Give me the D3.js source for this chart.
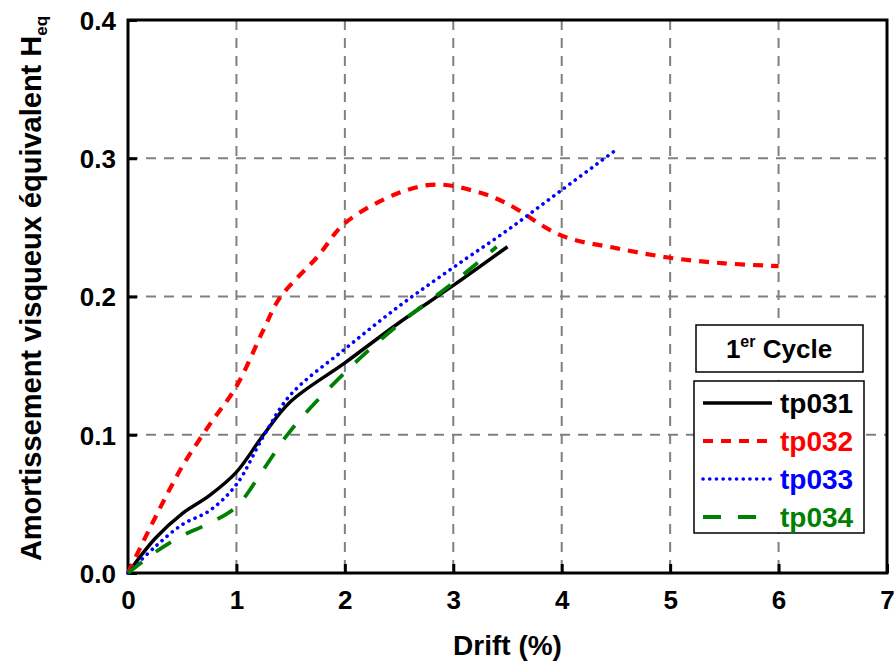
<!DOCTYPE html>
<html>
<head>
<meta charset="utf-8">
<script src="https://cdn.jsdelivr.net/npm/d3@7"></script>
<style>
  html, body { margin: 0; padding: 0; background: #fff; }
  text { font-family: "Liberation Sans", Arial, sans-serif; font-weight: bold; }
</style>
</head>
<body>
<svg id="chart" width="895" height="665"></svg>
<script>
// ---- data ----
const xTicks = [0, 1, 2, 3, 4, 5, 6, 7];
const yTicks = [0.0, 0.1, 0.2, 0.3, 0.4];

const tp031 = [[0,0],[0.25,0.025],[0.5,0.043],[0.75,0.056],[1.0,0.073],[1.25,0.100],[1.5,0.124],[2.0,0.152],[2.5,0.181],[3.0,0.208],[3.5,0.236]];
const tp032 = [[0,0],[0.25,0.040],[0.5,0.077],[0.75,0.107],[1.0,0.135],[1.25,0.176],[1.4,0.199],[1.75,0.229],[2.0,0.253],[2.5,0.275],[2.85,0.281],[3.25,0.275],[3.5,0.267],[4.0,0.244],[4.5,0.235],[5.0,0.228],[5.5,0.224],[6.0,0.222]];
const tp033 = [[0,0],[0.25,0.019],[0.5,0.035],[0.75,0.045],[1.0,0.064],[1.25,0.099],[1.5,0.129],[2.0,0.162],[2.5,0.193],[3.0,0.221],[3.5,0.248],[4.0,0.277],[4.5,0.306]];
const tp034 = [[0,0],[0.25,0.015],[0.5,0.027],[0.75,0.036],[1.0,0.048],[1.25,0.075],[1.5,0.103],[2.0,0.145],[2.5,0.180],[3.0,0.210],[3.4,0.236]];

const seriesNames = ["tp031", "tp032", "tp033", "tp034"];
const seriesData = [tp031, tp032, tp033, tp034];
const seriesColors = ["#000000", "#ff0000", "#0000ff", "#008000"];
const seriesDash = ["none", "10,8", "0.1,6.6", "18,17"];
const seriesWidth = [3.5, 4.2, 3.6, 3.8];
const seriesCap = ["butt", "butt", "round", "butt"];

// ---- layout ----
const svg = d3.select("#chart");
const L = 128, R = 887, T = 20, B = 573;
const x = d3.scaleLinear().domain([0, 7]).range([L, R]);
const y = d3.scaleLinear().domain([0, 0.4]).range([B, T]);

// grid
const grid = svg.append("g");
grid.selectAll("line.vx").data(xTicks.slice(1, -1)).enter().append("line")
  .attr("x1", d => x(d)).attr("x2", d => x(d)).attr("y1", T).attr("y2", B)
  .attr("stroke", "#808080").attr("stroke-width", 2).attr("stroke-dasharray", "10,8");
grid.selectAll("line.hy").data(yTicks.slice(1, -1)).enter().append("line")
  .attr("x1", L).attr("x2", R).attr("y1", d => y(d)).attr("y2", d => y(d))
  .attr("stroke", "#808080").attr("stroke-width", 2).attr("stroke-dasharray", "10,8");

// axes (ticks inward)
const xAxis = d3.axisBottom(x).tickValues(xTicks).tickFormat(d3.format("d")).tickSizeInner(-9).tickSizeOuter(0).tickPadding(18);
const yAxis = d3.axisLeft(y).tickValues(yTicks).tickFormat(d3.format(".1f")).tickSizeInner(-9).tickSizeOuter(0).tickPadding(12);

const gx = svg.append("g").attr("transform", `translate(0,${B})`).call(xAxis);
const gy = svg.append("g").attr("transform", `translate(${L},0)`).call(yAxis);
[gx, gy].forEach(g => {
  g.select(".domain").remove();
  g.selectAll(".tick line").attr("stroke", "#000").attr("stroke-width", 3);
  g.selectAll(".tick text").attr("fill", "#000").style("font-size", "26px")
    .style("font-family", "'Liberation Sans', Arial, sans-serif").style("font-weight", "bold");
});
gy.selectAll(".tick text").attr("dy", "0.36em");

// frame
svg.append("rect").attr("x", L).attr("y", T).attr("width", R - L).attr("height", B - T)
  .attr("fill", "none").attr("stroke", "#000").attr("stroke-width", 3);

// lines
const line = d3.line().x(d => x(d[0])).y(d => y(d[1])).curve(d3.curveCatmullRom.alpha(0.5));
const plot = svg.append("g");
seriesData.forEach((s, i) => {
  plot.append("path").datum(s).attr("d", line)
    .attr("fill", "none").attr("stroke", seriesColors[i]).attr("stroke-width", seriesWidth[i])
    .attr("stroke-dasharray", seriesDash[i]).attr("stroke-linecap", seriesCap[i]).attr("stroke-linejoin", "round");
});

// axis titles
svg.append("text").attr("x", (L + R) / 2).attr("y", 655).attr("text-anchor", "middle")
  .style("font-size", "28px").text("Drift (%)");
const yt = svg.append("text").attr("transform", `translate(41,${(T + B) / 2 - 8}) rotate(-90)`)
  .attr("text-anchor", "middle").style("font-size", "29px");
yt.append("tspan").text("Amortissement visqueux équivalent H");
yt.append("tspan").attr("dy", 6).style("font-size", "17px").text("eq");

// legend title box
svg.append("rect").attr("x", 696).attr("y", 325).attr("width", 167).attr("height", 47)
  .attr("fill", "#fff").attr("stroke", "#000").attr("stroke-width", 1.5);
const lt = svg.append("text").attr("x", 779).attr("y", 358).attr("text-anchor", "middle").style("font-size", "26px");
lt.append("tspan").text("1");
lt.append("tspan").attr("dy", -11).style("font-size", "16px").text("er");
lt.append("tspan").attr("dy", 11).text(" Cycle");

// legend box
svg.append("rect").attr("x", 694).attr("y", 381).attr("width", 170).attr("height", 152)
  .attr("fill", "#fff").attr("stroke", "#000").attr("stroke-width", 1.5);
const rowY = [403, 441, 479, 517];
seriesNames.forEach((n, i) => {
  svg.append("line").attr("x1", 703).attr("x2", 772).attr("y1", rowY[i]).attr("y2", rowY[i])
    .attr("stroke", seriesColors[i]).attr("stroke-width", seriesWidth[i])
    .attr("stroke-dasharray", seriesDash[i]).attr("stroke-linecap", seriesCap[i]);
  svg.append("text").attr("x", 780).attr("y", rowY[i] + 10).attr("fill", seriesColors[i])
    .style("font-size", "28px").text(n);
});
</script>
</body>
</html>
